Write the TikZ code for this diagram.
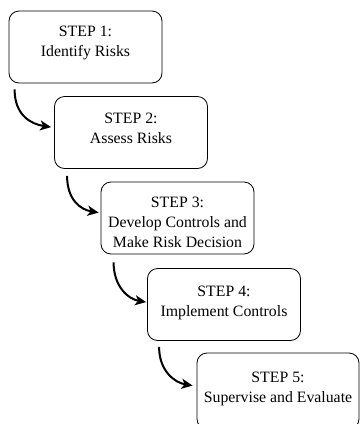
\documentclass[tikz,border=0pt]{standalone}
\usepackage{fontspec}
\setmainfont{Liberation Serif}
\usetikzlibrary{arrows.meta,calc}
\begin{document}
\begin{tikzpicture}[x=1bp,y=-1bp,
  stepbox/.style={draw,line width=0.8bp,rounded corners=10bp,minimum width=153bp,minimum height=72bp,inner sep=0pt},
  steptext/.style={align=center,font=\fontsize{15.8bp}{20bp}\selectfont,inner sep=0pt},
  flow/.style={line width=2bp,-{Stealth[length=11bp,width=10bp,inset=3bp]}}]
\useasboundingbox (0,0) rectangle (360,424);
\node[stepbox] (b1) at (85.5,47) {};
\node[steptext] (t1) at ($(b1.center)+(0,-4)$) {STEP 1:\\Identify Risks};
\node[stepbox] (b2) at (131,132.5) {};
\node[steptext] (t2) at ($(b2.center)+(0,-4.5)$) {STEP 2:\\Assess Risks};
\node[stepbox] (b3) at (177.5,218) {};
\node[steptext] (t3) at ($(b3.center)+(0,4.5)$) {STEP 3:\\Develop Controls and\\Make Risk Decision};
\node[stepbox] (b4) at (224,304.5) {};
\node[steptext] (t4) at ($(b4.center)+(0,-2)$) {STEP 4:\\Implement Controls};
\node[stepbox,minimum width=162bp,minimum height=76bp] (b5) at (278,391) {};
\node[steptext] (t5) at ($(b5.north)+(0,36)$) {STEP 5:\\Supervise and Evaluate};
\draw[flow] ($(b1.south west)+(6,6)$) .. controls +(0,26) and +(-20,-3) .. ($(b2.north west)+(-3,31)$);
\draw[flow] ($(b2.south west)+(13,7)$) .. controls +(0,24) and +(-18,-3) .. ($(b3.north west)+(-2,31)$);
\draw[flow] ($(b3.south west)+(13,8)$) .. controls +(0,24) and +(-18,-3) .. ($(b4.north west)+(-1,34)$);
\draw[flow] ($(b4.south west)+(12,6)$) .. controls +(0,24) and +(-18,-3) .. ($(b5.north west)+(-4,33)$);
\end{tikzpicture}
\end{document}
